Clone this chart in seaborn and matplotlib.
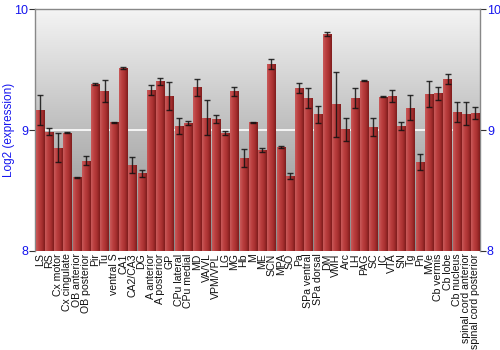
import numpy as np
import pandas as pd
import matplotlib
matplotlib.use("Agg")
import matplotlib.pyplot as plt
import seaborn as sns

regions = ["LS", "RS", "Cx motor", "Cx cingulate", "OB anterior", "OB posterior", "Pir", "Tu",
           "ventral S", "CA1", "CA2/CA3", "DG", "A anterior", "A posterior", "GP", "CPu lateral",
           "CPu medial", "MD", "VA/VL", "VPM/VPL", "LG", "MG", "Hb", "M", "ME", "SCN", "MPA",
           "SO", "Pa", "SPa ventral", "SPa dorsal", "DM", "VMH", "Arc", "LH", "PAG", "SC", "IC",
           "VTA", "SN", "Tg", "Pn", "MVe", "Cb vermis", "Cb lobe", "Cb nucleus",
           "spinal cord anterior", "spinal cord posterior"]
expression = [9.166, 8.986, 8.853, 8.978, 8.608, 8.746, 9.381, 9.323,
              9.066, 9.514, 8.710, 8.641, 9.331, 9.403, 9.282, 9.031,
              9.058, 9.353, 9.103, 9.091, 8.975, 9.320, 8.768, 9.066, 8.834, 9.547, 8.859,
              8.619, 9.345, 9.268, 9.130, 9.798, 9.215, 9.006, 9.265, 9.408, 9.025, 9.276,
              9.279, 9.033, 9.185, 8.732, 9.298, 9.304, 9.420, 9.149,
              9.135, 9.143]
error = [0.128, 0.030, 0.120, 0.006, 0.003, 0.035, 0.008, 0.091,
         0.004, 0.008, 0.070, 0.028, 0.044, 0.028, 0.119, 0.066,
         0.017, 0.072, 0.144, 0.030, 0.017, 0.035, 0.072, 0.004, 0.020, 0.040, 0.008,
         0.027, 0.041, 0.082, 0.069, 0.019, 0.270, 0.095, 0.085, 0.003, 0.077, 0.005,
         0.050, 0.036, 0.104, 0.066, 0.105, 0.054, 0.041, 0.081,
         0.094, 0.052]

df = pd.DataFrame({"region": regions, "expression": expression, "error": error})

sns.set_style("white")
plt.rcParams["font.family"] = ["Liberation Sans", "DejaVu Sans"]

fig = plt.figure(figsize=(5, 3.5), dpi=100)
ax = fig.add_axes([0.07, 0.284, 0.89, 0.689])

YMIN, YMAX = 8, 10
sns.barplot(data=df, x="region", y="expression", color="#b33636", width=0.88,
            errorbar=None, ax=ax, zorder=2, linewidth=0, order=regions)
n = len(regions)

# background gradient
bg = np.linspace(0, 1, 256).reshape(-1, 1)
ax.imshow(bg, extent=[-0.5, n - 0.5, YMIN, YMAX], aspect="auto", origin="upper",
          cmap=matplotlib.colors.LinearSegmentedColormap.from_list("bg", ["#f4f4f4", "#bdbdbd", "#8a8a8a"]),
          zorder=0)
ax.axhline(9, color="white", lw=1.2, zorder=1)

# bar gradients (left light -> right dark)
barcmap = matplotlib.colors.LinearSegmentedColormap.from_list(
    "bar", ["#c85a5a", "#bb3f3f", "#a83030", "#7e1c1c"])
grad = np.linspace(0, 1, 64).reshape(1, -1)
for p in list(ax.patches):
    x0 = p.get_x()
    w, top = p.get_width(), p.get_y() + p.get_height()
    if top <= YMIN:
        continue
    ax.imshow(grad, extent=[x0, x0 + w, YMIN, top], aspect="auto", cmap=barcmap, zorder=3)

ax.errorbar(np.arange(n), df["expression"], yerr=df["error"], fmt="none",
            ecolor="#111111", elinewidth=1.0, capsize=2.2, capthick=1.0, alpha=0.85, zorder=4)

ax.set_xlim(-0.5, n - 0.5)
ax.set_ylim(YMIN, YMAX)
ax.set_yticks([8, 9, 10])
ax.set_yticklabels(["8", "9", "10"])
ax.tick_params(axis="y", left=True, right=True, labelleft=True, labelright=True,
               length=4, width=0.8, colors="#333333", labelcolor="#1515ee", labelsize=9, pad=1)
ax.tick_params(axis="x", length=0, pad=2, labelsize=7.6, labelcolor="#111111")
plt.setp(ax.get_xticklabels(), rotation=90)
ax.set_xlabel("")
ax.set_ylabel("Log2 (expression)", color="#1515ee", fontsize=8.5)
ax.yaxis.set_label_coords(-0.045, 0.5)
for s in ["left", "right", "top"]:
    ax.spines[s].set_color("#888888")
    ax.spines[s].set_linewidth(1)
ax.spines["bottom"].set_visible(False)

fig.savefig("out.png", dpi=100)
